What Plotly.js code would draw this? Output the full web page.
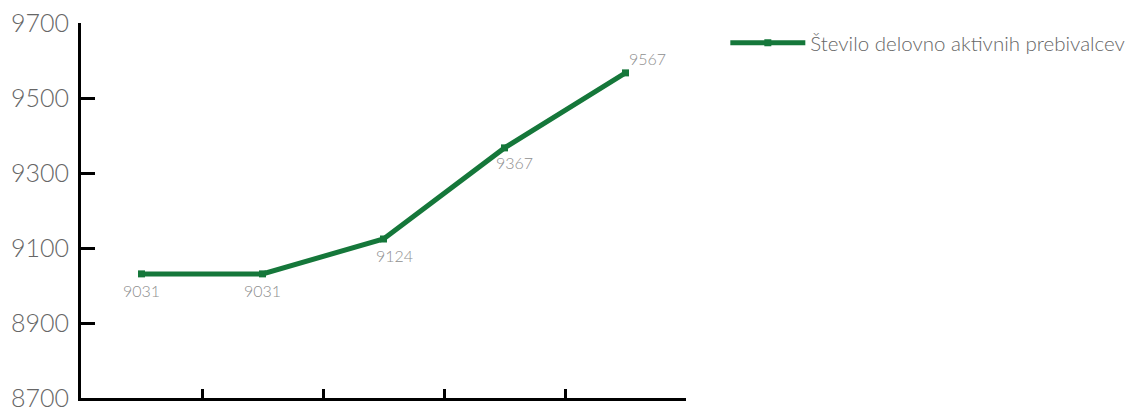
<!DOCTYPE html>
<html>
<head>
<meta charset="utf-8">
<script src="https://cdn.plot.ly/plotly-3.0.1.min.js"></script>
<style>html,body{margin:0;padding:0;background:#fff;}#chart{width:1136px;height:409px;}</style>
</head>
<body>
<div id="chart"></div>
<script>
var categories = ["1", "2", "3", "4", "5"];
var values = [9031, 9031, 9124, 9367, 9567];
var labels = ["9031", "9031", "9124", "9367", "9567"];
var seriesName = "Število delovno aktivnih prebivalcev";
var yTicks = [8700, 8900, 9100, 9300, 9500, 9700];

// label placement offsets (px), style only
var labelXShift = [0, 0, 11, 10, 22];
var labelYShift = [-17, -17, -16, -15, 14];

var trace = {
  type: "scatter",
  mode: "lines+markers",
  x: categories,
  y: values,
  name: seriesName,
  line: {color: "#15773a", width: 5},
  marker: {color: "#15773a", size: 7, symbol: "square"},
  cliponaxis: false
};

var annotations = categories.map(function (c, i) {
  return {
    x: i, y: values[i], xref: "x", yref: "y",
    text: labels[i], showarrow: false,
    xanchor: "center", yanchor: "middle",
    xshift: labelXShift[i], yshift: labelYShift[i],
    font: {family: "Lato, 'Open Sans', sans-serif", size: 16, color: "#8f8f8f", weight: 300}
  };
});

var layout = {
  width: 1136,
  height: 409,
  margin: {l: 81, r: 450, t: 23, b: 11, autoexpand: false},
  paper_bgcolor: "#ffffff",
  plot_bgcolor: "#ffffff",
  font: {family: "Lato, 'Open Sans', sans-serif", color: "#666666"},
  showlegend: true,
  annotations: annotations,
  legend: {
    x: 1.065, y: 1.0, xanchor: "left", yanchor: "top",
    font: {size: 20.5, color: "#666666", weight: 300},
    itemwidth: 75,
    bgcolor: "rgba(0,0,0,0)"
  },
  xaxis: {
    type: "category",
    range: [-0.5, 4.5],
    showgrid: false,
    zeroline: false,
    showline: true,
    linecolor: "#000000",
    linewidth: 3,
    ticks: "inside",
    tickson: "boundaries",
    ticklen: 9,
    tickwidth: 3,
    tickcolor: "#000000",
    showticklabels: false
  },
  yaxis: {
    range: [8700, 9700],
    tickvals: yTicks,
    ticktext: yTicks.map(String),
    showgrid: false,
    zeroline: false,
    showline: true,
    linecolor: "#000000",
    linewidth: 3,
    ticks: "inside",
    ticklen: 14,
    tickwidth: 3,
    tickcolor: "#000000",
    tickfont: {size: 25, color: "#666666", weight: 300},
    ticklabelstandoff: 4,
    ticklabeloverflow: "allow"
  }
};

Plotly.newPlot("chart", [trace], layout, {displayModeBar: false, staticPlot: true});
</script>
</body>
</html>
